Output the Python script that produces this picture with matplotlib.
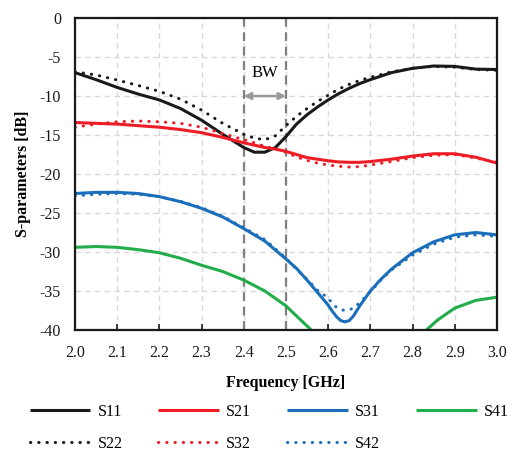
import numpy as np
import matplotlib
matplotlib.use("Agg")
import matplotlib.pyplot as plt

plt.rcParams['font.family'] = ['Liberation Serif', 'DejaVu Serif']
plt.rcParams['axes.unicode_minus'] = False

# frequency grid (GHz) for the return-loss / S21 curves
freq = [2.0, 2.05, 2.1, 2.15, 2.2, 2.25, 2.3, 2.35, 2.4, 2.425, 2.45, 2.475, 2.5,
        2.525, 2.55, 2.575, 2.6, 2.625, 2.65, 2.675, 2.7, 2.75, 2.8, 2.85, 2.9, 2.95, 3.0]

s11 = [-7.0, -7.9, -8.9, -9.75, -10.5, -11.6, -13.1, -14.9, -16.6, -17.2, -17.2, -16.6, -15.2,
       -13.6, -12.4, -11.4, -10.5, -9.7, -9.0, -8.4, -7.9, -7.0, -6.45, -6.15, -6.2, -6.55, -6.6]
s22 = [-6.9, -7.3, -7.95, -8.65, -9.4, -10.4, -11.8, -13.5, -14.9, -15.4, -15.6, -15.1, -13.8,
       -12.6, -11.6, -10.7, -9.9, -9.1, -8.5, -8.0, -7.6, -6.9, -6.45, -6.2, -6.3, -6.6, -6.7]

s21 = [-13.4, -13.5, -13.6, -13.8, -14.0, -14.3, -14.7, -15.3, -16.0, -16.3, -16.6, -16.8, -17.1,
       -17.5, -17.9, -18.1, -18.3, -18.45, -18.5, -18.5, -18.4, -18.1, -17.7, -17.4, -17.4, -17.85, -18.6]
s32 = [-14.0, -13.6, -13.3, -13.2, -13.3, -13.5, -14.0, -14.8, -15.6, -16.0, -16.45, -16.8, -17.2,
       -17.8, -18.25, -18.6, -18.85, -19.0, -19.1, -19.05, -18.85, -18.4, -17.9, -17.6, -17.5, -17.95, -18.5]

# the blue pair has a sharp notch, so it was read more densely
freq_blue = [2.0, 2.05, 2.1, 2.15, 2.2, 2.25, 2.3, 2.35, 2.4, 2.45, 2.5, 2.525, 2.55, 2.575,
             2.6, 2.61, 2.62, 2.63, 2.64, 2.65, 2.66, 2.675, 2.7, 2.725, 2.75, 2.8, 2.85,
             2.9, 2.95, 3.0]
s31 = [-22.5, -22.35, -22.35, -22.5, -22.9, -23.55, -24.4, -25.5, -27.0, -28.6, -30.9, -32.1,
       -33.6, -35.2, -36.8, -37.6, -38.3, -38.8, -38.95, -38.8, -38.2, -36.9, -35.0, -33.5,
       -32.2, -30.1, -28.7, -27.8, -27.5, -27.8]
s42 = [-22.8, -22.6, -22.5, -22.6, -22.9, -23.5, -24.3, -25.4, -26.9, -28.4, -30.8, -32.2,
       -33.5, -34.9, -35.9, -36.6, -37.1, -37.4, -37.5, -37.4, -37.2, -36.5, -35.1, -33.6,
       -32.3, -30.4, -29.0, -28.1, -27.8, -28.0]

# S41 leaves the plot below -40 dB between ~2.56 and ~2.83 GHz
freq_s41_low = [2.0, 2.05, 2.1, 2.15, 2.2, 2.25, 2.3, 2.35, 2.4, 2.45, 2.5, 2.525, 2.56]
s41_low = [-29.4, -29.3, -29.4, -29.7, -30.1, -30.8, -31.7, -32.5, -33.6, -35.0, -36.9, -38.2, -40.0]
freq_s41_high = [2.833, 2.86, 2.9, 2.95, 3.0]
s41_high = [-40.0, -38.7, -37.2, -36.2, -35.8]

band = [2.4, 2.5]

black = '#1a1a1a'
red = '#ee1c25'
blue = '#1b6fba'
green = '#22ad4b'

fig = plt.figure(figsize=(5.12, 4.51), dpi=100)
ax = fig.add_axes([0.1465, 0.2683, 0.824, 0.6917])

lw = 2.2
kw_line = dict(lw=lw, solid_joinstyle='round', solid_capstyle='butt')
kw_dot = dict(lw=lw, linestyle=(0, (0.1, 2.6)), dash_capstyle='round')

h11, = ax.plot(freq, s11, color=black, **kw_line, label='S11')
h22, = ax.plot(freq, s22, color=black, **kw_dot, label='S22')
h21, = ax.plot(freq, s21, color=red, **kw_line, label='S21')
h32, = ax.plot(freq, s32, color=red, **kw_dot, label='S32')
h31, = ax.plot(freq_blue, s31, color=blue, **kw_line, label='S31')
h42, = ax.plot(freq_blue, s42, color=blue, **kw_dot, label='S42')
h41, = ax.plot(freq_s41_low, s41_low, color=green, **kw_line, label='S41')
ax.plot(freq_s41_high, s41_high, color=green, **kw_line)

# bandwidth markers
for b in band:
    ax.axvline(b, color='#808080', lw=1.6, linestyle=(0, (4, 2.5)), zorder=1.5)
ax.annotate('', xy=(band[0], -10), xytext=(band[1], -10),
            arrowprops=dict(arrowstyle='<|-|>', color='#999999', lw=1.8,
                            mutation_scale=10, shrinkA=0, shrinkB=0))
ax.text(sum(band) / 2, -7.0, 'BW', ha='center', va='center', fontsize=12)

ax.set_xlim(2.0, 3.0)
ax.set_ylim(-40, 0)
ax.set_xticks(np.arange(2.0, 3.01, 0.1))
ax.set_xticklabels([f'{v:.1f}' for v in np.arange(2.0, 3.01, 0.1)])
ax.set_yticks(np.arange(-40, 1, 5))
ax.tick_params(direction='in', labelsize=11.5, length=4, width=1.2, colors=black)
ax.tick_params(axis='x', pad=11)
ax.tick_params(axis='y', pad=10, length=0)
ax.grid(True, color='#d9d9d9', linestyle=(0, (4, 3)), lw=1)
ax.set_axisbelow(True)
for side in ['left', 'bottom', 'right', 'top']:
    ax.spines[side].set_color(black)
    ax.spines[side].set_linewidth(1.6)

ax.set_xlabel('Frequency [GHz]', fontsize=11.5, fontweight='bold', labelpad=10)
ax.set_ylabel('S-parameters [dB]', fontsize=11.5, fontweight='bold', labelpad=6)

handles = [h11, h22, h21, h32, h31, h42, h41]
fig.legend(handles=handles, labels=[h.get_label() for h in handles],
           loc='lower center', bbox_to_anchor=(0.526, -0.033), ncol=4, frameon=False,
           fontsize=11.5, handlelength=3.8, handletextpad=0.45, columnspacing=2.25,
           labelspacing=1.0)

fig.savefig('out.png', dpi=100)
